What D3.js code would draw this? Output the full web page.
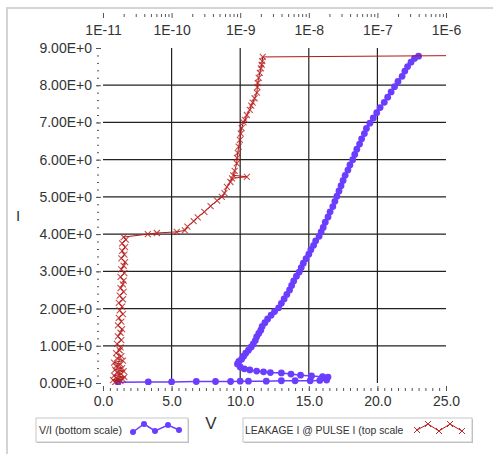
<!DOCTYPE html>
<html>
<head>
<meta charset="utf-8">
<script src="https://cdn.jsdelivr.net/npm/d3@7"></script>
<style>
  body { margin: 0; background: #fff; }
  svg text { font-family: "Liberation Sans", Arial, sans-serif; fill: #333; }
</style>
</head>
<body>
<script>
// Chart data
// V/I sweep (bottom scale): voltage and current
let viVolts = [1.1, 3.3, 5.0, 6.8, 8.2, 9.3, 10.0, 10.6, 11.9, 13.0, 14.0, 15.1, 15.8, 16.3,
    16.4, 16.0, 15.2, 14.4, 13.7, 13.0, 12.2, 11.7, 11.2, 10.7, 10.3, 10.0, 9.8,
    9.9, 10.1, 10.25, 10.4, 10.6, 10.8, 10.95, 11.1, 11.2, 11.35, 11.5, 11.6, 11.8, 12.0,
    12.25, 12.5, 12.8, 13.0, 13.2, 13.4, 13.6, 13.75, 13.9, 14.1, 14.3, 14.45, 14.6, 14.8,
    15.0, 15.15, 15.35, 15.5, 15.75, 15.9, 16.05, 16.2, 16.4, 16.55, 16.75, 16.9, 17.05,
    17.2, 17.35, 17.5, 17.65, 17.85, 18.0, 18.2, 18.35, 18.5, 18.7, 18.85, 19.05, 19.2,
    19.45, 19.7, 19.95, 20.2, 20.5, 20.75, 21.0, 21.25, 21.5, 21.8, 22.0, 22.2, 22.45, 22.7, 23.0];
let viAmps = [0.02, 0.03, 0.03, 0.04, 0.04, 0.04, 0.05, 0.05, 0.05, 0.06, 0.06, 0.06, 0.07, 0.08,
    0.16, 0.17, 0.19, 0.21, 0.24, 0.27, 0.28, 0.30, 0.32, 0.35, 0.38, 0.43, 0.51,
    0.58, 0.64, 0.72, 0.80, 0.88, 0.97, 1.05, 1.14, 1.24, 1.33, 1.42, 1.52, 1.62, 1.72,
    1.82, 1.92, 2.02, 2.14, 2.26, 2.38, 2.50, 2.62, 2.74, 2.87, 2.98, 3.10, 3.22, 3.34,
    3.46, 3.58, 3.70, 3.82, 3.94, 4.06, 4.18, 4.32, 4.46, 4.60, 4.74, 4.88, 5.02,
    5.16, 5.30, 5.44, 5.58, 5.72, 5.86, 6.00, 6.14, 6.28, 6.42, 6.56, 6.70, 6.84,
    6.98, 7.12, 7.26, 7.40, 7.54, 7.68, 7.82, 7.96, 8.10, 8.24, 8.38, 8.50, 8.62, 8.72, 8.78];

// Leakage current (top scale) at each pulse current
let leakAmps = [1.5e-11, 1.8e-11, 1.4e-11, 1.95e-11, 1.55e-11, 2.05e-11, 1.45e-11, 1.85e-11, 1.6e-11, 2.0e-11,
    1.5e-11, 1.9e-11, 1.55e-11, 1.8e-11, 1.45e-11, 1.95e-11, 1.6e-11, 1.85e-11, 1.55e-11, 1.75e-11,
    1.8e-11, 1.6e-11, 1.85e-11, 1.65e-11, 1.8e-11, 1.9e-11, 1.65e-11, 1.85e-11, 1.7e-11, 1.95e-11,
    1.75e-11, 1.9e-11, 1.7e-11, 1.95e-11, 1.75e-11, 2.0e-11, 1.8e-11, 1.95e-11, 2.0e-11, 1.8e-11,
    2.05e-11, 1.85e-11, 2.0e-11, 2.1e-11, 1.85e-11, 2.05e-11, 1.9e-11, 2.1e-11, 1.9e-11, 2.15e-11,
    2.0e-11, 4.5e-11, 6.1e-11, 1.19e-10, 1.56e-10, 1.7e-10, 2.1e-10, 2.4e-10, 3.0e-10, 3.7e-10,
    4.6e-10, 5.4e-10, 5.9e-10, 6.4e-10, 7.2e-10, 7.6e-10, 1.25e-9, 7.9e-10, 8.3e-10, 8.9e-10,
    9.0e-10, 9.2e-10, 9.5e-10, 9.9e-10, 1.02e-9, 1.05e-9, 1.12e-9, 1.17e-9, 1.25e-9, 1.38e-9,
    1.45e-9, 1.52e-9, 1.62e-9, 1.75e-9, 1.78e-9, 1.8e-9, 1.86e-9, 1.93e-9, 2.0e-9, 2.06e-9,
    2.1e-9, 2.13e-9, 3e-6];
let leakPulse = [0.02, 0.05, 0.08, 0.10, 0.13, 0.16, 0.20, 0.24, 0.28, 0.32,
    0.36, 0.40, 0.45, 0.50, 0.55, 0.60, 0.66, 0.72, 0.80, 0.88,
    0.96, 1.05, 1.15, 1.25, 1.35, 1.45, 1.55, 1.65, 1.75, 1.85,
    1.95, 2.05, 2.15, 2.25, 2.35, 2.45, 2.55, 2.65, 2.75, 2.85,
    2.95, 3.05, 3.15, 3.25, 3.35, 3.45, 3.55, 3.65, 3.75, 3.85,
    3.92, 4.00, 4.03, 4.06, 4.10, 4.20, 4.35, 4.45, 4.60, 4.75,
    4.90, 5.00, 5.10, 5.27, 5.40, 5.50, 5.54, 5.58, 5.70, 5.90,
    6.05, 6.18, 6.35, 6.53, 6.70, 6.85, 7.00, 7.07, 7.20, 7.34,
    7.45, 7.53, 7.65, 7.80, 7.95, 8.06, 8.20, 8.33, 8.45, 8.55,
    8.65, 8.76, 8.80];

// Axis ticks
let yTicks = [0, 1, 2, 3, 4, 5, 6, 7, 8, 9];
let xTicks = [0, 5, 10, 15, 20, 25];
let topTicks = [1e-11, 1e-10, 1e-9, 1e-8, 1e-7, 1e-6];
let topTickLabels = ["1E-11", "1E-10", "1E-9", "1E-8", "1E-7", "1E-6"];
let legendLabels = ["V/I (bottom scale)", "LEAKAGE I @ PULSE I (top scale"];

let svgWidth = 493;
let svgHeight = 454;
let plot = { left: 103, right: 446, top: 48, bottom: 383 };

let blue = "#6a3dff";
let red = "#b01818";

let svg = d3.select("body")
    .append("svg")
    .attr("width", svgWidth)
    .attr("height", svgHeight);

// panel edge (top and left only)
svg.append("path")
    .attr("d", "M7,454 V8 H493")
    .attr("fill", "none")
    .attr("stroke", "#d4d4d4")
    .attr("stroke-width", 2);

// Scales
let xScale = d3.scaleLinear().domain([0, 25]).range([plot.left, plot.right]);
let xTop = d3.scaleLog().domain([1e-11, 1e-6]).range([plot.left, plot.right]);
let yScale = d3.scaleLinear().domain([0, 9]).range([plot.bottom, plot.top]);

// Grid lines
let grid = svg.append("g").attr("stroke", "#222").attr("stroke-width", 1.2);
grid.selectAll("line.v")
    .data(xTicks.slice(1, -1))
    .enter()
    .append("line")
    .attr("x1", d => xScale(d)).attr("x2", d => xScale(d))
    .attr("y1", plot.top).attr("y2", plot.bottom);
grid.selectAll("line.h")
    .data(yTicks.slice(1, -1))
    .enter()
    .append("line")
    .attr("x1", plot.left).attr("x2", plot.right)
    .attr("y1", d => yScale(d)).attr("y2", d => yScale(d));

// Left axis: major ticks + minor ticks
let leftAxis = d3.axisLeft(yScale)
    .tickValues(yTicks)
    .tickSize(5)
    .tickPadding(4)
    .tickFormat(d => d.toFixed(2) + "E+0");
let leftG = svg.append("g")
    .attr("transform", `translate(${plot.left - 2}, 0)`)
    .call(leftAxis);
let leftMinor = svg.append("g")
    .attr("transform", `translate(${plot.left - 4}, 0)`)
    .call(d3.axisLeft(yScale).tickValues(d3.range(0, 9.01, 0.2)).tickSize(2).tickFormat(""));

// Bottom axis
let bottomG = svg.append("g")
    .attr("transform", `translate(0, ${plot.bottom + 3})`)
    .call(d3.axisBottom(xScale).tickValues(xTicks).tickSize(5).tickPadding(5).tickFormat(d3.format(".1f")));
let bottomMinor = svg.append("g")
    .attr("transform", `translate(0, ${plot.bottom + 5})`)
    .call(d3.axisBottom(xScale).tickValues(d3.range(0, 25.01, 0.5)).tickSize(3).tickFormat(""));

// Top axis (log)
let topMinorVals = [];
topTicks.slice(0, -1).forEach(t => { for (let k = 2; k <= 9; k++) topMinorVals.push(t * k); });
let topG = svg.append("g")
    .attr("transform", "translate(0, 18)")
    .call(d3.axisTop(xTop).tickValues(topTicks).tickSize(5)
        .tickFormat((d, i) => topTickLabels[i]));
let topMinor = svg.append("g")
    .attr("transform", "translate(0, 17)")
    .call(d3.axisTop(xTop).tickValues(topMinorVals).tickSize(3).tickFormat(""));

[leftG, leftMinor, bottomG, bottomMinor, topG, topMinor].forEach(g => {
    g.select(".domain").remove();
    g.selectAll(".tick line").attr("stroke", "#555");
    g.selectAll(".tick text").attr("fill", "#333").style("font-size", "14px")
        .style("font-family", "'Liberation Sans', Arial, sans-serif");
});
topG.selectAll(".tick text").attr("y", 17).attr("dy", 0);

// Axis titles
svg.append("text").attr("x", 18).attr("y", 221).attr("text-anchor", "middle")
    .style("font-size", "15px").text("I");
svg.append("text").attr("x", 211).attr("y", 429).attr("text-anchor", "middle")
    .style("font-size", "17px").text("V");

// Clip to plot area
svg.append("clipPath").attr("id", "plotClip")
    .append("rect")
    .attr("x", plot.left - 4).attr("y", plot.top - 4)
    .attr("width", plot.right - plot.left + 4).attr("height", plot.bottom - plot.top + 6);

let marks = svg.append("g").attr("clip-path", "url(#plotClip)");

// V/I series (bottom scale)
let viData = viVolts.map((v, i) => ({ v: v, a: viAmps[i] }));
marks.append("path")
    .datum(viData)
    .attr("fill", "none")
    .attr("stroke", blue)
    .attr("stroke-width", 1.5)
    .attr("d", d3.line().x(d => xScale(d.v)).y(d => yScale(d.a)));
marks.selectAll("circle.vi")
    .data(viData)
    .enter()
    .append("circle")
    .attr("cx", d => xScale(d.v))
    .attr("cy", d => yScale(d.a))
    .attr("r", 3.4)
    .attr("fill", blue);

// Leakage series (top scale)
let leakData = leakAmps.map((l, i) => ({ l: l, p: leakPulse[i] }));
marks.append("path")
    .datum(leakData)
    .attr("fill", "none")
    .attr("stroke", red)
    .attr("stroke-width", 1)
    .attr("d", d3.line().x(d => xTop(d.l)).y(d => yScale(d.p)));
let xMark = "M-3,-3L3,3M-3,3L3,-3";
marks.selectAll("path.lk")
    .data(leakData.slice(0, -1))
    .enter()
    .append("path")
    .attr("d", xMark)
    .attr("transform", d => `translate(${xTop(d.l)}, ${yScale(d.p)})`)
    .attr("stroke", "#b82020")
    .attr("stroke-opacity", 0.8)
    .attr("stroke-width", 1.1)
    .attr("fill", "none");

// Legends
function legendBox(x, y, w, h) {
    svg.append("rect").attr("x", x + 1).attr("y", y + 1).attr("width", w).attr("height", h)
        .attr("fill", "#b8b8b8");
    svg.append("rect").attr("x", x).attr("y", y).attr("width", w).attr("height", h)
        .attr("fill", "#fff").attr("stroke", "#c8c8c8");
}
legendBox(36, 418, 152, 24);
svg.append("text").attr("x", 39).attr("y", 434).style("font-size", "10.6px")
    .attr("fill", "#222").text(legendLabels[0]);
let blueIcon = [[133, 432], [144, 424], [155, 431], [168, 425], [179, 430]];
svg.append("path").attr("d", d3.line()(blueIcon)).attr("fill", "none")
    .attr("stroke", blue).attr("stroke-width", 1.5);
svg.selectAll("circle.lg").data(blueIcon).enter().append("circle")
    .attr("cx", d => d[0]).attr("cy", d => d[1]).attr("r", 3).attr("fill", blue);

legendBox(243, 418, 229, 24);
svg.append("text").attr("x", 245).attr("y", 434).style("font-size", "10.4px")
    .attr("fill", "#222").text(legendLabels[1]);
let redIcon = [[417, 430], [428, 424], [439, 431], [450, 424], [462, 431]];
svg.append("path").attr("d", d3.line()(redIcon)).attr("fill", "none")
    .attr("stroke", red).attr("stroke-width", 1);
svg.selectAll("path.lgx").data(redIcon).enter().append("path")
    .attr("d", xMark)
    .attr("transform", d => `translate(${d[0]}, ${d[1]})`)
    .attr("stroke", "#c02828").attr("stroke-width", 1);
</script>
</body>
</html>
